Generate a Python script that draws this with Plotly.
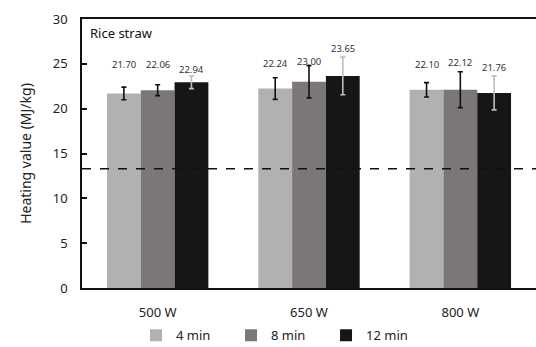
import plotly.graph_objects as go

categories = ["500 W", "650 W", "800 W"]
series_names = ["4 min", "8 min", "12 min"]
values_4min = [21.70, 22.24, 22.10]
values_8min = [22.06, 23.00, 22.12]
values_12min = [22.94, 23.65, 21.76]
err_4min = [0.7, 1.2, 0.8]
err_8min = [0.6, 1.8, 2.0]
err_12min = [0.7, 2.1, 1.9]
reference_line = 13.3
y_ticks = [0, 5, 10, 15, 20, 25, 30]

# layout-only label positions (in data units)
label_y_4 = [24.9, 25.0, 24.9]
label_y_8 = [24.9, 25.3, 25.1]
label_y_12 = [24.4, 26.7, 24.6]

colors = ["#b1b1b1", "#7b7776", "#161616"]
err_colors = ["#111111", "#111111", "#bdbdbd"]
font = "Noto Sans"

fig = go.Figure()
all_vals = [values_4min, values_8min, values_12min]
all_err = [err_4min, err_8min, err_12min]
all_ly = [label_y_4, label_y_8, label_y_12]
for i, name in enumerate(series_names):
    fig.add_trace(go.Bar(
        x=categories, y=all_vals[i], name=name,
        marker=dict(color=colors[i], line=dict(width=0)),
        error_y=dict(type="data", array=all_err[i], visible=True,
                     color=err_colors[i], thickness=1.6, width=2.5),
        offsetgroup=str(i),
    ))

offsets = [-1, 0, 1]
bar_w = (1 - 0.33) / 3
for i in range(3):
    for j, c in enumerate(categories):
        fig.add_annotation(
            x=j + offsets[i] * bar_w, y=all_ly[i][j], xref="x", yref="y",
            text=f"{all_vals[i][j]:.2f}", showarrow=False,
            font=dict(family=font, size=9.5, color="#333333"),
        )

fig.add_shape(type="line", xref="paper", yref="y", x0=0, x1=1,
              y0=reference_line, y1=reference_line,
              line=dict(color="#111111", width=1.6, dash="dash"))

fig.add_annotation(x=0.013, y=0.99, xref="paper", yref="paper",
                   xanchor="left", yanchor="top", text="Rice straw",
                   showarrow=False, font=dict(family=font, size=13, color="#111111"))

fig.update_layout(
    width=536, height=347,
    margin=dict(l=82, r=0, t=19, b=59, autoexpand=False),
    paper_bgcolor="white", plot_bgcolor="white",
    barmode="group", bargap=0.33, bargroupgap=0,
    font=dict(family=font, size=12, color="#222222"),
    showlegend=True,
    legend=dict(orientation="h", x=0.119, xanchor="left", y=-0.12, yanchor="top",
                font=dict(family=font, size=13, color="#222222"),
                itemwidth=30, entrywidth=50, entrywidthmode="pixels",
                tracegroupgap=0, traceorder="normal",
                bgcolor="rgba(0,0,0,0)"),
    xaxis=dict(type="category", range=[-0.5, 2.5], showline=True, linecolor="#111111",
               linewidth=1.6, mirror=True, ticks="", showgrid=False, automargin=False,
               ticklabelstandoff=12,
               tickfont=dict(family=font, size=13, color="#222222")),
    yaxis=dict(range=[0, 30], tickvals=y_ticks, showline=True, linecolor="#111111",
               linewidth=1.6, ticks="inside", ticklen=5, tickwidth=1.5,
               tickcolor="#111111", showgrid=False, zeroline=False, automargin=False,
               ticklabelstandoff=10,
               title=dict(text="Heating value (MJ/kg)", font=dict(family=font, size=14, color="#222222"), standoff=18),
               tickfont=dict(family=font, size=13, color="#222222")),
)

fig.write_html("out.html", config={"displayModeBar": False},
               post_script="document.body.style.margin='0';document.body.style.overflow='hidden';")
